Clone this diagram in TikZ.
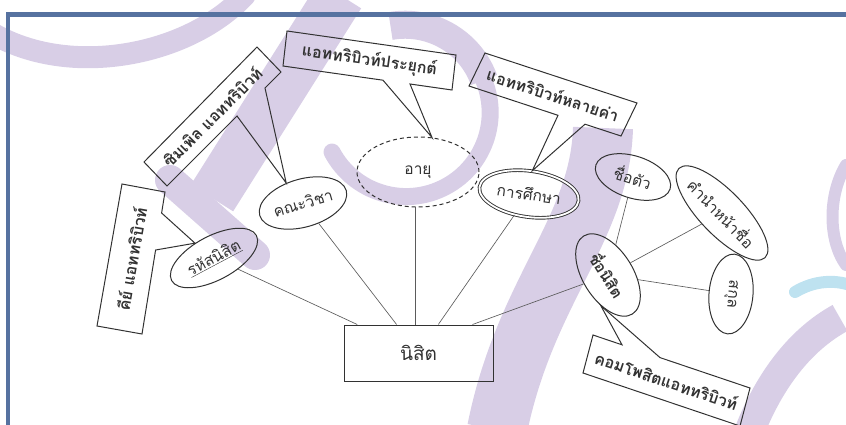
\documentclass[tikz,border=0pt]{standalone}
\usepackage{fontspec}
\newfontfamily\thai[Script=Thai]{Loma}
\usetikzlibrary{shapes.geometric}
\definecolor{lav}{RGB}{216,206,230}
\definecolor{lblue}{RGB}{190,226,240}
\definecolor{frameblue}{RGB}{86,114,160}
\definecolor{ink}{RGB}{50,50,50}
\begin{document}
\begin{tikzpicture}[x=1pt,y=-1pt,
  attr/.style={draw=ink, line width=1pt, ellipse, inner sep=0pt, text=ink,
    font=\thai\fontsize{15.5}{15.5}\selectfont},
  conn/.style={draw=ink!80, line width=0.65pt},
  callout/.style={draw=ink, line width=1pt, line join=miter},
  ctext/.style={font=\thai\bfseries\fontsize{16}{16}\selectfont, text=ink, inner sep=0pt},
  wm/.style={draw=lav, line cap=round}]
\useasboundingbox (0,0) rectangle (846,424);
% watermark
\begin{scope}
\clip (0,0) rectangle (846,424);
\draw[wm, line width=22pt] (-10,32) .. controls (70,80) and (190,55) .. (245,-5);
\draw[wm, line width=50pt, line cap=butt] (340,-5) -- (212,198);
\draw[wm, line width=30pt] (170,180) -- (255,255);
\draw[wm, line width=17pt] (332,152) arc[start angle=152, end angle=-60, radius=84];
\draw[wm, line width=28pt, line cap=butt] (484,80) arc[start angle=-20, end angle=-100, radius=84];
\draw[wm, line width=60pt, line cap=butt] (603,128) .. controls (600,230) and (525,290) .. (497,430);
\draw[wm, line width=12pt] (846,165) .. controls (828,195) and (828,240) .. (846,265);
\draw[draw=lblue, line width=12pt, line cap=round] (795,292) .. controls (815,280) and (835,280) .. (850,285);
\draw[wm, line width=30pt, line cap=butt] (840,318) .. controls (800,340) and (770,380) .. (750,430);
\end{scope}
% frame
\draw[frameblue, line width=4.5pt] (8,430) -- (8,14.5) -- (850,14.5);
% entity
\node[draw=ink, line width=1pt, minimum width=149pt, minimum height=56pt, inner sep=0pt,
  text=ink, font=\thai\fontsize{19}{19}\selectfont] (stu) at (418.5,353) {นิสิต};
% attributes
\node[attr, minimum width=96pt, minimum height=44pt, rotate=28] (rhs) at (214,258) {\underline{รหัสนิสิต}};
\node[attr, minimum width=90pt, minimum height=48pt, rotate=16] (kv) at (303,203) {คณะวิชา};
\node[attr, dashed, dash pattern=on 4pt off 3pt, minimum width=122pt, minimum height=70pt] (age) at (418,172) {อายุ};
\node[attr, double, double distance=1.8pt, line width=0.9pt, minimum width=100pt, minimum height=46pt, rotate=-8] (edu) at (529,194) {การศึกษา};
\node[attr, minimum width=78pt, minimum height=42pt, rotate=-18] (fn) at (633,177) {ชื่อตัว};
\node[attr, minimum width=92pt, minimum height=50pt, rotate=-58, font=\thai\bfseries\fontsize{15.5}{15.5}\selectfont] (sn) at (608,275) {ชื่อนิสิต};
\node[attr, minimum width=106pt, minimum height=44pt, rotate=-46] (pre) at (722,213) {คำนำหน้าชื่อ};
\node[attr, minimum width=80pt, minimum height=44pt, rotate=-95] (sur) at (731,294) {สกุล};
% connectors
\draw[conn] (rhs) -- (stu);
\draw[conn] (kv) -- (stu);
\draw[conn] (age.265) -- (age.265 |- stu.north);
\draw[conn] (edu) -- (stu);
\draw[conn] (sn) -- ([xshift=-21pt]stu.north east);
\draw[conn] (fn) -- (sn);
\draw[conn] (pre) -- (sn);
\draw[conn] (sur) -- (sn);
% callouts
\draw[callout] (122,184) -- (165,192) -- (161.6,213) -- (rhs.114) -- (155.6,250) -- (142,334) -- (97,326) -- cycle;
\node[ctext, rotate=80] (c1) at (131.5,259) {คีย์ แอททริบิวท์};
\draw[callout] (144,162) -- (257,47) -- (281,72) -- (265,88) -- (kv.114) -- (237,116) -- (167,186) -- cycle;
\node[ctext, rotate=45] (c2) at (212,117) {ซิมเพิล แอททริบิวท์};
\draw[callout] (287,31) -- (456,55) -- (452,90) -- (410,84) -- (age.68) -- (383,80.2) -- (283,66) -- cycle;
\node[ctext, rotate=-8] (c3) at (369.5,60.5) {แอททริบิวท์ประยุกต์};
\draw[callout] (485,53) -- (637,103) -- (621,136) -- (585,124.2) -- (edu.90) -- (558,115.3) -- (469,86) -- cycle;
\node[ctext, rotate=-18] (c4) at (553,94.5) {แอททริบิวท์หลายค่า};
\draw[callout] (593,335) -- (622,344.8) -- (sn.315) -- (660,357.6) -- (750,388) -- (740,426) -- (583,373) -- cycle;
\node[ctext, rotate=-18.6] (c5) at (666.5,380.5) {คอมโพสิตแอททริบิวท์};
\end{tikzpicture}
\end{document}
